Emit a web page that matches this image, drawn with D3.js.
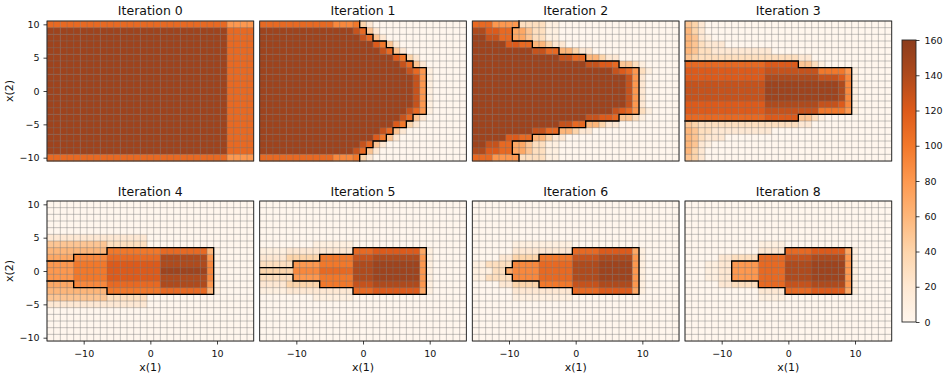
<!DOCTYPE html>
<html><head><meta charset="utf-8">
<script src="https://cdn.jsdelivr.net/npm/d3@7"></script>
<style>
body{margin:0;background:#fff;}
svg text{font-family:"DejaVu Sans",sans-serif;fill:#111;}
</style></head><body>
<svg id="chart" width="947" height="379"></svg>
<script>
// ---------------- DATA ----------------
const iterTitles = ["Iteration 0","Iteration 1","Iteration 2","Iteration 3","Iteration 4","Iteration 5","Iteration 6","Iteration 8"];
const xCenters = [-15,-14,-13,-12,-11,-10,-9,-8,-7,-6,-5,-4,-3,-2,-1,0,1,2,3,4,5,6,7,8,9,10,11,12,13,14,15];
const yCenters = [10,9,8,7,6,5,4,3,2,1,0,-1,-2,-3,-4,-5,-6,-7,-8,-9,-10];
const xTicks = [-10,0,10];
const yTicks = [-10,-5,0,5,10];
const cbTicks = [0,20,40,60,80,100,120,140,160];
// cell level code: char index in levelChars * 10 = value; rows are run-length tokens "<level><count>"
const levelChars = "0123456789abcdefg";

const iter0Cells = ["b27 84","f27 b4","f27 b4","f27 b4","f27 b4","f27 b4","f27 b4","f27 b4","f27 b4","f27 b4","f27 b4",
 "f27 b4","f27 b4","f27 b4","f27 b4","f27 b4","f27 b4","f27 b4","f27 b4","f27 b4","b27 84"];
const iter1Cells = ["b11 93 a1 41 21 014","f14 d1 b1 51 21 013","f15 d1 b1 51 21 012","f17 c1 a1 51 21 010","f18 d1 b1 51 21 09",
 "f20 c1 a1 41 21 07","f21 d1 b1 51 21 06","f22 d1 b1 81 11 05","f23 d1 81 11 05","f23 d1 81 11 05","f23 d1 81 11 05",
 "f23 d1 81 11 05","f23 d1 81 11 05","f22 d1 b1 81 11 05","f21 d1 b1 51 21 06","f20 c1 a1 41 21 07","f18 d1 b1 51 21 09",
 "f17 c1 a1 51 21 010","f15 d1 b1 51 21 012","f14 d1 b1 51 21 013","b11 93 a1 41 21 014"];
const iter2Cells = ["b3 84 34 12 018","e2 c2 b2 72 51 32 12 018","f2 d2 b2 72 51 32 12 018","f5 c2 b2 62 41 22 017",
 "f9 d2 b2 62 41 22 013","f13 d2 b2 62 41 22 09","f17 d2 c2 b1 52 31 11 05","f21 d1 c1 b1 81 31 11 04",
 "f23 d1 81 21 05","f23 d1 81 21 05","f23 d1 81 21 05","f23 d1 81 21 05","f23 d1 81 21 05",
 "f21 d1 c1 b1 81 31 11 04","f17 d2 c2 b1 52 31 11 05","f13 d2 b2 62 41 22 09","f9 d2 b2 62 41 22 013",
 "f5 c2 b2 62 41 22 017","f2 d2 b2 72 51 32 12 018","e2 c2 b2 72 51 32 12 018","b3 84 34 12 018"];
const iter3Cells = ["51 41 21 028","61 41 21 028","61 51 21 11 027","61 51 31 23 025","61 51 32 29 018","51 41 315 22 012",
 "b12 c5 52 31 11 010","c12 d8 a4 81 11 05","c12 e8 d3 c1 91 11 05","d12 f11 e1 91 11 05","d12 f11 e1 91 11 05",
 "d12 f11 e1 91 11 05","c12 e8 d3 c1 91 11 05","c12 d8 a4 81 11 05","b12 c5 52 31 11 010","51 41 315 22 012",
 "61 51 32 29 018","61 51 31 23 025","61 51 21 11 027","61 41 21 028","51 41 21 028"];
const iter4Cells = ["031","031","031","031","031","215 016","59 36 016","69 a8 b7 61 11 05","74 95 b8 e7 81 11 05",
 "84 a5 c8 e7 91 11 05","84 a5 c8 f7 91 11 05","84 a5 c8 e7 91 11 05","74 95 b8 e7 81 11 05","69 a8 b7 61 11 05",
 "59 36 016","215 016","031","031","031","031","031"];
const iter5Cells = ["031","031","031","031","031","031","08 16 017","14 210 b3 c7 71 11 05","24 45 a5 d3 e7 81 11 05",
 "35 84 a5 e3 f7 81 11 05","45 94 b5 e3 f7 81 11 05","35 84 a5 e3 f7 81 11 05","24 45 a5 d3 e7 81 11 05",
 "14 210 b3 c7 71 11 05","08 16 017","031","031","031","031","031","031"];
const iter6Cells = ["031","031","031","031","031","031","06 19 016","06 29 b4 c5 71 11 05","04 22 44 a5 d4 e5 81 11 05",
 "12 34 94 b5 e4 f5 81 11 05","13 32 71 94 b5 e4 f5 81 11 05","12 34 94 b5 e4 f5 81 11 05","04 22 44 a5 d4 e5 81 11 05",
 "06 29 b4 c5 71 11 05","06 19 016","031","031","031","031","031","031"];
const iter8Cells = ["031","031","031","031","031","031","011 14 016","011 24 b4 c5 71 11 05","05 22 34 b4 d4 e5 81 11 05",
 "03 12 22 84 b4 e4 f5 81 11 05","03 12 22 84 b4 e4 f5 81 11 05","03 12 22 84 b4 e4 f5 81 11 05","05 22 34 b4 d4 e5 81 11 05",
 "011 24 b4 c5 71 11 05","011 14 016","031","031","031","031","031","031"];

// outlined set per panel: [y, xFrom, xTo]
const region0 = [];
const region1 = [[10,-15,-1],[9,-15,0],[8,-15,1],[7,-15,3],[6,-15,4],[5,-15,6],[4,-15,7],[3,-15,9],[2,-15,9],[1,-15,9],[0,-15,9],
 [-1,-15,9],[-2,-15,9],[-3,-15,9],[-4,-15,7],[-5,-15,6],[-6,-15,4],[-7,-15,3],[-8,-15,1],[-9,-15,0],[-10,-15,-1]];
const region2 = [[10,-15,-9],[9,-15,-10],[8,-15,-10],[7,-15,-7],[6,-15,-3],[5,-15,1],[4,-15,6],[3,-15,9],[2,-15,9],[1,-15,9],[0,-15,9],
 [-1,-15,9],[-2,-15,9],[-3,-15,9],[-4,-15,6],[-5,-15,1],[-6,-15,-3],[-7,-15,-7],[-8,-15,-10],[-9,-15,-10],[-10,-15,-9]];
const region3 = [[4,-15,1],[3,-15,9],[2,-15,9],[1,-15,9],[0,-15,9],[-1,-15,9],[-2,-15,9],[-3,-15,9],[-4,-15,1]];
const region4 = [[3,-6,9],[2,-11,9],[1,-15,9],[0,-15,9],[-1,-15,9],[-2,-11,9],[-3,-6,9]];
const region5 = [[3,-1,9],[2,-6,9],[1,-10,9],[0,-15,9],[-1,-10,9],[-2,-6,9],[-3,-1,9]];
const region6 = [[3,0,9],[2,-5,9],[1,-9,9],[0,-10,9],[-1,-9,9],[-2,-5,9],[-3,0,9]];
const region8 = [[3,0,9],[2,-4,9],[1,-8,9],[0,-8,9],[-1,-8,9],[-2,-4,9],[-3,0,9]];

const panelCells = [iter0Cells,iter1Cells,iter2Cells,iter3Cells,iter4Cells,iter5Cells,iter6Cells,iter8Cells];
const panelRegions = [region0,region1,region2,region3,region4,region5,region6,region8];

// ---------------- STYLE / LAYOUT ----------------
const orangeStops = ["#fff5eb","#fee6ce","#fdd0a2","#fdae6b","#fd8d3c","#f16913","#d94801","#a63603","#7f2704"];
const color = d3.scaleLinear().domain(d3.range(9).map(i=>i*20)).range(orangeStops).interpolate(d3.interpolateRgb).clamp(true);
const cellOpacity = 0.9;
const unit = 206.7/31;
const panelW = 31*unit, panelH = 21*unit;
const panelLefts = [47, 259.67, 472.33, 685];
const panelTops = [21, 201];

function decodeRow(s){
  const out=[];
  s.trim().split(/\s+/).forEach(tok=>{
    const v = levelChars.indexOf(tok[0])*10, n = +tok.slice(1);
    for(let k=0;k<n;k++) out.push(v);
  });
  while(out.length<31) out.push(out[out.length-1]);
  return out.slice(0,31);
}

const svg = d3.select("#chart");
const defs = svg.append("defs");

panelCells.forEach((rows,p)=>{
  const col = p%4, row = Math.floor(p/4);
  const g = svg.append("g").attr("transform",`translate(${panelLefts[col]},${panelTops[row]})`);
  const x = d3.scaleLinear().domain([-15.5,15.5]).range([0,panelW]);
  const y = d3.scaleLinear().domain([-10.5,10.5]).range([panelH,0]);
  const cells=[];
  rows.forEach((r,j)=>{ decodeRow(r).forEach((v,i)=>cells.push({x:xCenters[i],y:yCenters[j],v})); });
  g.selectAll("rect.cell").data(cells).join("rect").attr("class","cell")
    .attr("x",d=>x(d.x-0.5)).attr("y",d=>y(d.y+0.5))
    .attr("width",x(1)-x(0)+0.3).attr("height",y(0)-y(1)+0.3)
    .attr("fill",d=>color(d.v)).attr("fill-opacity",cellOpacity);
  // grid lines (cell edges)
  const xEdges = xCenters.map(c=>c-0.5).concat([xCenters[xCenters.length-1]+0.5]);
  const yEdges = yCenters.map(c=>c+0.5).concat([yCenters[yCenters.length-1]-0.5]);
  const grid = g.append("g").attr("stroke","#7a7a7a").attr("stroke-opacity",0.55).attr("stroke-width",0.8);
  xEdges.forEach(e=>grid.append("line").attr("x1",x(e)).attr("x2",x(e)).attr("y1",0).attr("y2",panelH));
  yEdges.forEach(e=>grid.append("line").attr("y1",y(e)).attr("y2",y(e)).attr("x1",0).attr("x2",panelW));
  // contour of region
  const reg = panelRegions[p];
  const inSet = new Set();
  reg.forEach(([yy,a,b])=>{ for(let xx=a;xx<=b;xx++) inSet.add(xx+","+yy); });
  const has=(a,b)=>inSet.has(a+","+b);
  let path="";
  inSet.forEach(k=>{
    const [cx,cy]=k.split(",").map(Number);
    if(cx-1>=-15 && !has(cx-1,cy)) path+=`M${x(cx-0.5)},${y(cy+0.5)}L${x(cx-0.5)},${y(cy-0.5)}`;
    if(cx+1<=15 && !has(cx+1,cy)) path+=`M${x(cx+0.5)},${y(cy+0.5)}L${x(cx+0.5)},${y(cy-0.5)}`;
    if(cy+1<=10 && !has(cx,cy+1)) path+=`M${x(cx-0.5)},${y(cy+0.5)}L${x(cx+0.5)},${y(cy+0.5)}`;
    if(cy-1>=-10 && !has(cx,cy-1)) path+=`M${x(cx-0.5)},${y(cy-0.5)}L${x(cx+0.5)},${y(cy-0.5)}`;
  });
  if(path) g.append("path").attr("d",path).attr("fill","none").attr("stroke","#000").attr("stroke-width",1.3).attr("stroke-linecap","square");
  // frame
  g.append("rect").attr("width",panelW).attr("height",panelH).attr("fill","none").attr("stroke","#262626").attr("stroke-width",0.9);
  // title
  g.append("text").attr("x",panelW/2).attr("y",row===0?-6:-5.5).attr("text-anchor","middle").attr("font-size","12.5px").text(iterTitles[p]);
  // axes
  if(col===0){
    const ax = g.append("g").call(d3.axisLeft(y).tickValues(yTicks).tickSize(3.5).tickPadding(4));
    ax.select(".domain").remove();
    ax.attr("font-family",null).attr("font-size",null);
    ax.selectAll("text").attr("font-size","9.5px");
    ax.selectAll("line").attr("stroke","#111").attr("stroke-width",0.8);
    g.append("text").attr("transform",`translate(${9-panelLefts[0]},${panelH/2}) rotate(-90)`).attr("text-anchor","middle")
      .attr("dy","0.35em").attr("font-size","11px").text("x(2)");
  }
  if(row===1){
    const ax = g.append("g").attr("transform",`translate(0,${panelH})`).call(d3.axisBottom(x).tickValues(xTicks).tickSize(3.5).tickPadding(5.5));
    ax.select(".domain").remove();
    ax.attr("font-family",null).attr("font-size",null);
    ax.selectAll("text").attr("font-size","9.5px");
    ax.selectAll("line").attr("stroke","#111").attr("stroke-width",0.8);
    g.append("text").attr("x",panelW/2).attr("y",panelH+29.5).attr("text-anchor","middle").attr("font-size","11px").text("x(1)");
  }
});

// colorbar
const cbX=902, cbW=14, cbTop=40, cbBot=322;
const grad = defs.append("linearGradient").attr("id","cbg").attr("x1",0).attr("y1",1).attr("x2",0).attr("y2",0);
orangeStops.forEach((c,i)=>grad.append("stop").attr("offset",i/8).attr("stop-color",c));
svg.append("rect").attr("x",cbX).attr("y",cbTop).attr("width",cbW).attr("height",cbBot-cbTop).attr("fill","url(#cbg)").attr("fill-opacity",cellOpacity);
svg.append("rect").attr("x",cbX).attr("y",cbTop).attr("width",cbW).attr("height",cbBot-cbTop).attr("fill","none").attr("stroke","#262626").attr("stroke-width",0.9);
const cbScale = d3.scaleLinear().domain([0,160]).range([cbBot,cbTop]);
const cax = svg.append("g").attr("transform",`translate(${cbX+cbW},0)`).call(d3.axisRight(cbScale).tickValues(cbTicks).tickSize(3.5).tickPadding(5));
cax.select(".domain").remove();
cax.attr("font-family",null).attr("font-size",null);
cax.selectAll("text").attr("font-size","9.5px");
cax.selectAll("line").attr("stroke","#111").attr("stroke-width",0.8);
</script>
</body></html>
